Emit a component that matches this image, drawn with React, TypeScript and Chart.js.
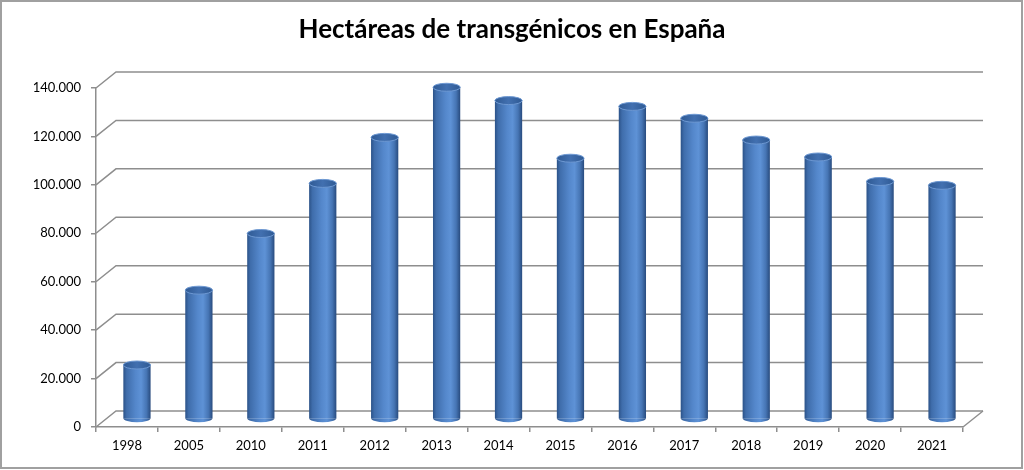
import React, { useEffect, useRef } from "react";
import { Chart, registerables } from "chart.js";

Chart.register(...registerables);

const chartTitle = "Hectáreas de transgénicos en España";
const years = ["1998", "2005", "2010", "2011", "2012", "2013", "2014", "2015", "2016", "2017", "2018", "2019", "2020", "2021"];
const hectares = [22300, 53200, 76600, 97300, 116300, 137000, 131500, 107700, 129100, 124200, 115200, 108200, 98100, 96500];
const yMin = 0;
const yMax = 140000;
const yStep = 20000;

const DEPTH_X = 20;
const DEPTH_Y = 16;
const BAR_PCT = 0.44;
const CAP_RY = 4;
const FONT = "Lato, 'Open Sans', 'Liberation Sans', sans-serif";

function fmt(v: number): string {
  return String(v).replace(/\B(?=(\d{3})+(?!\d))/g, ".");
}

function bodyGradient(ctx: CanvasRenderingContext2D, x0: number, x1: number) {
  const g = ctx.createLinearGradient(x0, 0, x1, 0);
  g.addColorStop(0, "#2b5288");
  g.addColorStop(0.12, "#3f6dab");
  g.addColorStop(0.45, "#5487cb");
  g.addColorStop(0.65, "#5e92d6");
  g.addColorStop(0.85, "#4675b4");
  g.addColorStop(1, "#284b7e");
  return g;
}

const wallPlugin = {
  id: "wall3d",
  beforeDatasetsDraw(chart: any) {
    const ctx = chart.ctx as CanvasRenderingContext2D;
    const { left, right, bottom } = chart.chartArea;
    const ys = chart.scales.y;
    ctx.save();
    ctx.strokeStyle = "#8e8e8e";
    ctx.lineWidth = 1.5;
    ys.ticks.forEach((t: any) => {
      const y = ys.getPixelForValue(t.value);
      ctx.beginPath();
      ctx.moveTo(left, y);
      ctx.lineTo(left + DEPTH_X, y - DEPTH_Y);
      ctx.lineTo(right + DEPTH_X, y - DEPTH_Y);
      ctx.stroke();
    });
    ctx.beginPath();
    ctx.moveTo(right, bottom);
    ctx.lineTo(right + DEPTH_X, bottom - DEPTH_Y);
    ctx.stroke();
    ctx.restore();
    ctx.save();
    ctx.translate(DEPTH_X / 2, -DEPTH_Y / 2);
  },
  afterDatasetsDraw(chart: any) {
    const ctx = chart.ctx as CanvasRenderingContext2D;
    const meta = chart.getDatasetMeta(0);
    meta.data.forEach((el: any) => {
      const x = el.x;
      const w = el.width;
      const r = w / 2;
      ctx.beginPath();
      ctx.ellipse(x, el.base, r, CAP_RY, 0, 0, Math.PI);
      ctx.closePath();
      ctx.fillStyle = bodyGradient(ctx, x - r, x + r);
      ctx.fill();
      ctx.beginPath();
      ctx.ellipse(x, el.y, r, CAP_RY, 0, 0, Math.PI * 2);
      const g = ctx.createLinearGradient(x - r, 0, x + r, 0);
      g.addColorStop(0, "#2f5a94");
      g.addColorStop(0.5, "#4270b0");
      g.addColorStop(1, "#2f5a94");
      ctx.fillStyle = g;
      ctx.fill();
      ctx.lineWidth = 1;
      ctx.strokeStyle = "#6d98d2";
      ctx.stroke();
    });
    ctx.restore();
  },
  afterDraw(chart: any) {
    const ctx = chart.ctx as CanvasRenderingContext2D;
    ctx.save();
    ctx.strokeStyle = "#a0a0a0";
    ctx.lineWidth = 2;
    ctx.strokeRect(1, 1, chart.width - 3, chart.height - 3);
    ctx.restore();
  },
};

export default function App() {
  const ref = useRef<HTMLCanvasElement | null>(null);
  useEffect(() => {
    if (!ref.current) return;
    const chart = new Chart(ref.current, {
      type: "bar",
      data: {
        labels: years,
        datasets: [
          {
            label: "Hectáreas",
            data: hectares,
            yAxisID: "y",
            clip: false as any,
            borderWidth: 0,
            categoryPercentage: 1,
            barPercentage: BAR_PCT,
            backgroundColor: (c: any) => {
              const ch = c.chart;
              const xs = ch.scales && ch.scales.x;
              if (!xs || c.type !== "data" || !ch.chartArea) return "#4f81bd";
              const cx = xs.getPixelForValue(c.dataIndex);
              const w = (xs.width / years.length) * BAR_PCT;
              return bodyGradient(ch.ctx, cx - w / 2, cx + w / 2);
            },
          },
        ],
      },
      options: {
        responsive: false,
        animation: false,
        devicePixelRatio: 1,
        layout: { padding: 0 },
        plugins: {
          legend: { display: false },
          tooltip: { enabled: false },
          title: {
            display: true,
            text: chartTitle,
            color: "#000",
            font: { family: FONT, size: 26, weight: "bold", lineHeight: 1.2 },
            padding: { top: 14.4, bottom: 42.4 },
          },
        },
        scales: {
          x: {
            afterFit: (s: any) => {
              s.height = 43;
            },
            grid: {
              offset: true,
              drawOnChartArea: false,
              drawTicks: true,
              tickLength: 5,
              color: "#8e8e8e",
              lineWidth: 1.5,
            },
            border: { display: true, color: "#8e8e8e", width: 1.5 },
            ticks: {
              color: "#000",
              font: { family: FONT, size: 13 },
              padding: 6,
              maxRotation: 0,
              autoSkip: false,
            },
          },
          y: {
            min: yMin,
            max: yMax,
            afterFit: (s: any) => {
              s.width = 96;
            },
            grid: {
              drawOnChartArea: false,
              drawTicks: true,
              tickLength: 5,
              color: "#8e8e8e",
              lineWidth: 1.5,
            },
            border: { display: true, color: "#8e8e8e", width: 1.5 },
            ticks: {
              stepSize: yStep,
              color: "#000",
              font: { family: FONT, size: 13 },
              padding: 10,
              callback: (v: any) => fmt(Number(v)),
            },
          },
          yRight: {
            position: "right",
            display: true,
            min: yMin,
            max: yMax,
            afterFit: (s: any) => {
              s.width = 61;
            },
            grid: { display: false, drawOnChartArea: false },
            border: { display: false },
            ticks: { display: false },
          },
        },
      },
      plugins: [wallPlugin],
    });
    return () => chart.destroy();
  }, []);
  return (
    <div style={{ position: "fixed", left: 0, top: 0, width: 1024, height: 470, background: "#fff" }}>
      <canvas ref={ref} width={1024} height={470} />
    </div>
  );
}
